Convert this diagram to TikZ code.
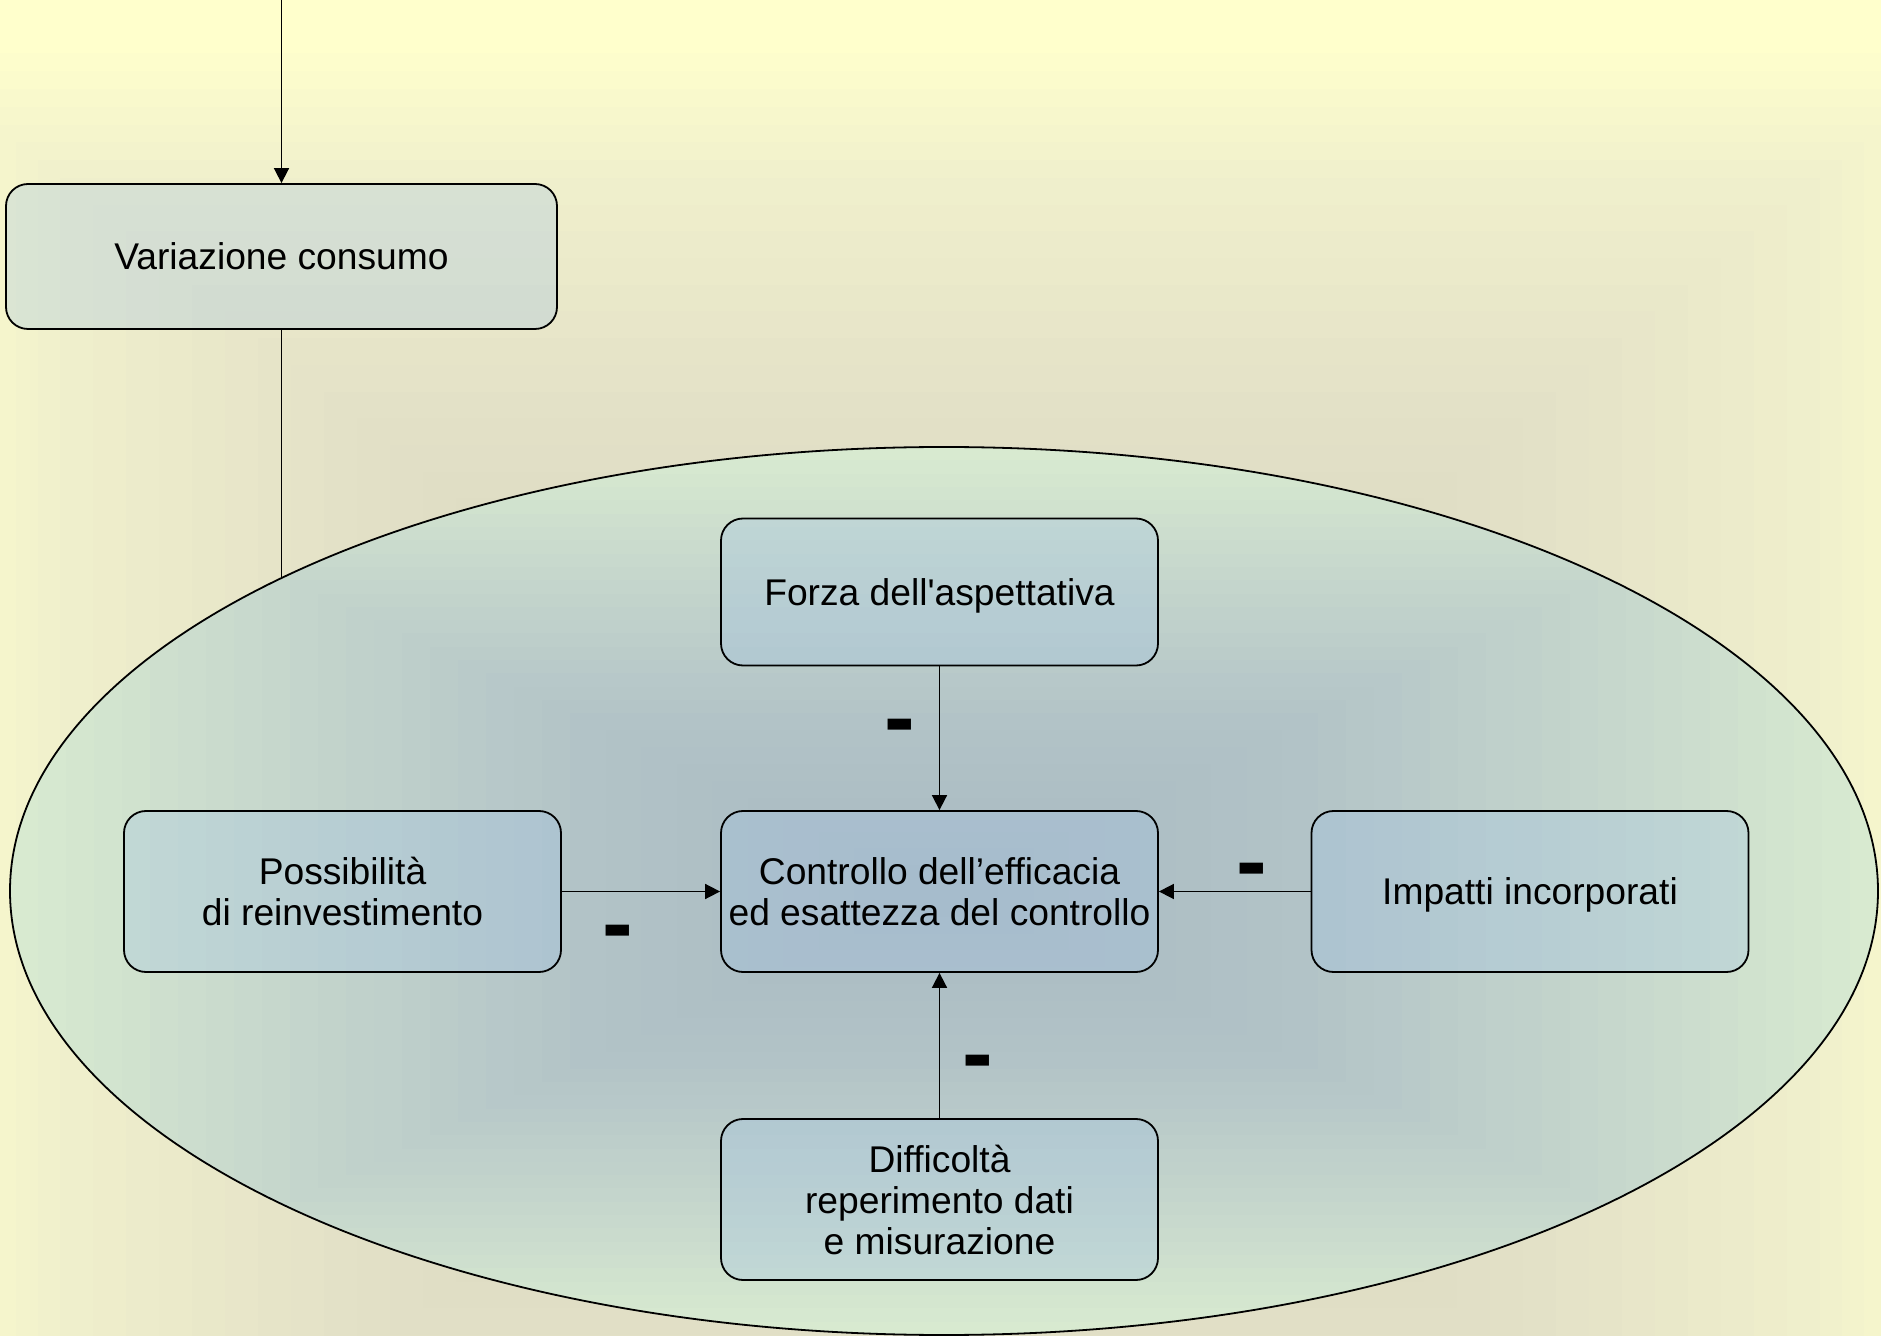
\documentclass[tikz,border=0pt]{standalone}
\usepackage{fontspec}
\setmainfont{Liberation Sans}
\usetikzlibrary{arrows.meta}
\definecolor{bgA}{HTML}{CFCDB9}
\definecolor{bgB}{HTML}{DAD8C2}
\definecolor{bgC}{HTML}{E3E1C7}
\definecolor{bgD}{HTML}{EFEFCC}
\definecolor{bgE}{HTML}{FFFFCC}
\definecolor{elA}{HTML}{A9B9C2}
\definecolor{elB}{HTML}{B2C3C7}
\definecolor{elC}{HTML}{C4D5CC}
\definecolor{elD}{HTML}{D8EAD0}
\definecolor{boxfill}{RGB}{160,195,230}
\begin{document}
\begin{tikzpicture}[x=0.5pt,y=-0.5pt,
  box/.style={draw=black, line width=0.9pt, rounded corners=11pt, fill=boxfill, fill opacity=0.3, text opacity=1,
    minimum width=218.5pt, minimum height=80.5pt, align=center, inner sep=0pt,
    font=\fontsize{18.6pt}{20.5pt}\selectfont},
  conn/.style={draw=black, line width=0.85pt},
  arr/.style={conn, -{Triangle[length=7.5pt,width=7.5pt]}},
  minus/.style={inner sep=0pt, font=\fontsize{46pt}{46pt}\selectfont\bfseries}]
\useasboundingbox (0,0) rectangle (1881,1336);
\begin{scope}
\clip (0,0) rectangle (1881,1336);
% rectangular gradient of the background
\foreach \ta/\tb/\ca/\cb in {1/0.96/bgE/bgE, 0.96/0.8/bgE/bgD, 0.8/0.56/bgD/bgC, 0.56/0.32/bgC/bgB, 0.32/0.02/bgB/bgA}{
  \foreach \k in {0,...,7}{
    \pgfmathsetmacro\tt{\ta-(\ta-\tb)*\k/8}
    \pgfmathtruncatemacro\pp{100*\k/8}
    \fill[fill={\cb!\pp!\ca}] ({940-1100*\tt},{890-890*\tt}) rectangle ({940+1100*\tt},{890+890*\tt});
  }}
% rectangular gradient inside the ellipse
\begin{scope}
\clip (944,891) ellipse [x radius=934, y radius=444];
\foreach \ta/\tb/\ca/\cb in {1/0.7/elD/elC, 0.7/0.4/elC/elB, 0.4/0.02/elB/elA}{
  \foreach \k in {0,...,9}{
    \pgfmathsetmacro\tt{\ta-(\ta-\tb)*\k/10}
    \pgfmathtruncatemacro\pp{100*\k/10}
    \fill[fill={\cb!\pp!\ca}] ({944-934*\tt},{891-444*\tt}) rectangle ({944+934*\tt},{891+444*\tt});
  }}
\end{scope}
\draw[line width=0.9pt] (944,891) ellipse [x radius=934, y radius=444];
\end{scope}
\node[box, minimum width=275.5pt, minimum height=72.5pt] (var) at (281.5,256.5) {Variazione consumo};
\node[box, minimum height=73.5pt, text depth=0pt] (forza) at (939.5,592) {Forza dell\textquotesingle aspettativa};
\node[box] (ctrl) at (939.5,891.5) {Controllo dell’efficacia\\ed esattezza del controllo};
\node[box] (poss) at (342.5,891.5) {Possibilità\\di reinvestimento};
\node[box, text depth=0pt] (imp) at (1530,891.5) {Impatti incorporati};
\node[box] (diff) at (939.5,1199.5) {Difficoltà\\reperimento dati\\e misurazione};
\coordinate (top) at (281.5,0);
\coordinate (ell) at (281.5,577);
\draw[arr] (top) -- (var.north);
\draw[conn] (var.south) -- (ell);
\draw[arr] (forza.south) -- (ctrl.north);
\draw[arr] (poss.east) -- (ctrl.west);
\draw[arr] (imp.west) -- (ctrl.east);
\draw[arr] (diff.north) -- (ctrl.south);
\node[minus] (m1) at (900,734) {-};
\node[minus] (m2) at (618,940) {-};
\node[minus] (m3) at (1252,878) {-};
\node[minus] (m4) at (978,1070) {-};
\end{tikzpicture}
\end{document}
